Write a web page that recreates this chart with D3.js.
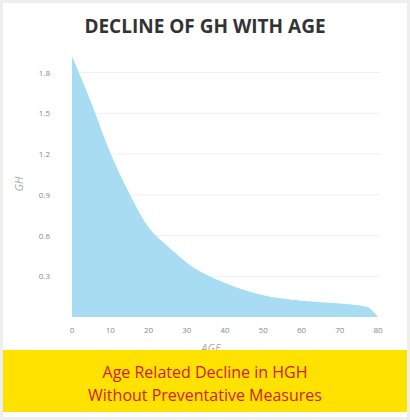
<!DOCTYPE html><html><head><script src="https://cdn.jsdelivr.net/npm/d3@7"></script>
<style>body{margin:0;background:#fff}svg{display:block;font-family:'Open Sans',sans-serif}</style></head><body><svg width="410" height="420"></svg>
<script>
const ages=[0,5,10,15,20,25,30,40,50,60,70,77,80];
const gh=[1.92,1.58,1.21,0.91,0.66,0.52,0.40,0.25,0.16,0.12,0.10,0.076,0];
const yTicks=[0.3,0.6,0.9,1.2,1.5,1.8];
const xTicks=[0,10,20,30,40,50,60,70,80];
const svg=d3.select("svg");
svg.append("rect").attr("width",410).attr("height",420).attr("fill","#eeeeee");
svg.append("rect").attr("x",3).attr("y",3).attr("width",404).attr("height",414).attr("fill","#fff");
const x=d3.scaleLinear().domain([0,80]).range([72,378]);
const y=d3.scaleLinear().domain([0,1.8]).range([317,72.5]);
svg.append("text").attr("x",205).attr("y",33).attr("text-anchor","middle").attr("font-size",19).attr("font-weight",700).attr("fill","#333").text("DECLINE OF GH WITH AGE");
svg.selectAll(".g").data(yTicks).join("line").attr("x1",80).attr("x2",380).attr("y1",d=>y(d)).attr("y2",d=>y(d)).attr("stroke","#f0f0f0");
svg.append("path").datum(ages.map((a,i)=>[a,gh[i]])).attr("fill","#a8dcf2")
 .attr("d",d3.area().x(d=>x(d[0])).y0(y(0)).y1(d=>y(d[1])).curve(d3.curveMonotoneX));
svg.selectAll(".yt").data(yTicks).join("text").attr("x",50).attr("y",d=>y(d)+3).attr("text-anchor","end").attr("font-size",8).attr("fill","#888").text(d=>d.toFixed(1));
svg.selectAll(".xt").data(xTicks).join("text").attr("x",d=>x(d)).attr("y",333).attr("text-anchor","middle").attr("font-size",8).attr("fill","#888").text(d=>d);
svg.append("text").attr("transform","translate(23,184) rotate(-90)").attr("text-anchor","middle").attr("font-size",11).attr("font-style","italic").attr("fill","#aaa").text("GH");
svg.append("text").attr("x",211).attr("y",352).attr("text-anchor","middle").attr("font-size",11).attr("font-style","italic").attr("fill","#aaa").text("AGE");
svg.append("rect").attr("x",3).attr("y",350).attr("width",404).attr("height",62).attr("fill","#ffe200");
svg.append("text").attr("x",205).attr("y",378).attr("text-anchor","middle").attr("font-size",16).attr("fill","#d0202a").text("Age Related Decline in HGH");
svg.append("text").attr("x",205).attr("y",401).attr("text-anchor","middle").attr("font-size",16).attr("fill","#d0202a").text("Without Preventative Measures");
</script></body></html>
